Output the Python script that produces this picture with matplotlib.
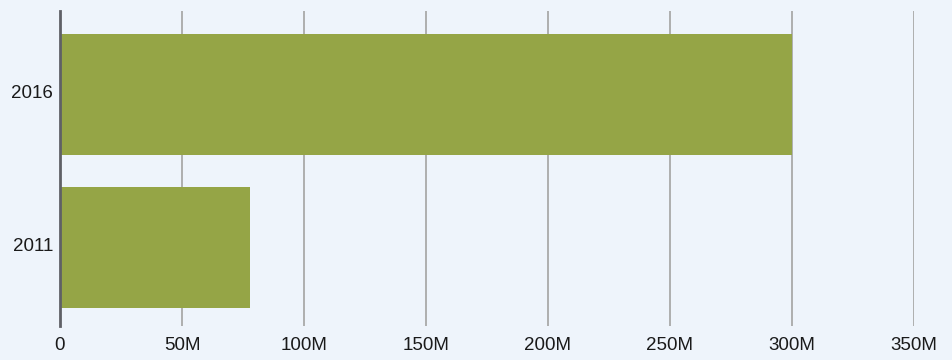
import matplotlib
matplotlib.use("Agg")
import matplotlib.pyplot as plt
import matplotlib.transforms as mtransforms
from matplotlib.ticker import FuncFormatter

plt.rcParams["font.family"] = ["Liberation Sans", "DejaVu Sans"]

# data
years = ["2011", "2016"]
values = [78e6, 300e6]
ticks = [0, 50e6, 100e6, 150e6, 200e6, 250e6, 300e6, 350e6]

bg = "#eef4fb"
bar_color = "#95a546"

fig = plt.figure(figsize=(9.53, 3.6), dpi=100, facecolor=bg)
ax = fig.add_axes([60 / 953, 34 / 360, 854 / 953, 315 / 360])
ax.set_facecolor(bg)

ax.barh(range(len(years)), values, height=0.79, color=bar_color, zorder=2)
ax.set_yticks(range(len(years)))
ax.set_yticklabels(years)
ax.set_ylim(-0.51, 1.545)

ax.set_xlim(0, 350e6)
ax.set_xticks(ticks)
ax.xaxis.set_major_formatter(FuncFormatter(lambda v, p: "0" if v == 0 else f"{v / 1e6:.0f}M"))
ax.grid(axis="x", color="#a9a9a9", lw=1.3, zorder=1)
ax.tick_params(axis="both", length=0, labelsize=13.5, colors="#1a1a1a")
ax.tick_params(axis="x", pad=8)
ax.tick_params(axis="y", pad=5)

# labels sit a bit above the bar centre in the original
shift = mtransforms.ScaledTranslation(0, 3 / 100, fig.dpi_scale_trans)
for lab in ax.get_yticklabels():
    lab.set_transform(lab.get_transform() + shift)

for s in ["top", "right", "bottom"]:
    ax.spines[s].set_visible(False)
ax.spines["left"].set_color("#5f6066")
ax.spines["left"].set_linewidth(2)
ax.spines["left"].set_zorder(3)

fig.savefig("out.png", dpi=100, facecolor=bg)
